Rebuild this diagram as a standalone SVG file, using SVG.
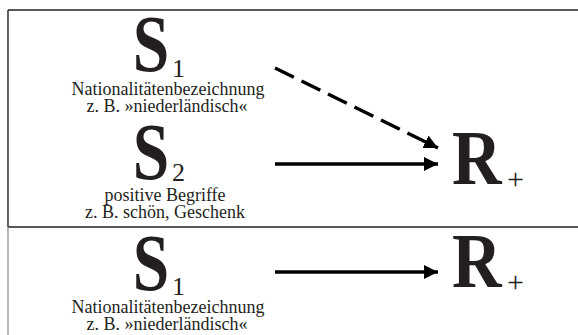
<svg xmlns="http://www.w3.org/2000/svg" width="578" height="335" viewBox="0 0 578 335">
<defs>
<style>
.big{font-family:"Liberation Serif","DejaVu Serif",serif;font-weight:bold;font-size:80px;fill:#231f20}
.sub{font-family:"Liberation Serif","DejaVu Serif",serif;font-size:26px;fill:#231f20}
.plus{font-family:"Liberation Serif","DejaVu Serif",serif;font-size:30px;fill:#231f20}
.lbl{font-family:"Liberation Serif","DejaVu Serif",serif;font-size:18px;fill:#231f20;text-anchor:middle}
.rule{stroke:#231f20;stroke-width:1.4;fill:none}
.arr{stroke:#000;stroke-width:3.5;fill:none;marker-end:url(#ah)}
</style>
<marker id="ah" markerUnits="userSpaceOnUse" markerWidth="14" markerHeight="14" viewBox="0 0 13 13" refX="13" refY="6.5" orient="auto">
<path d="M0,0 L13,6.5 L0,13 Z" fill="#000"/>
</marker>
</defs>
<rect width="578" height="335" fill="#fff"/>
<g id="frame">
<line class="rule" x1="8" y1="10" x2="578" y2="10"/>
<line class="rule" x1="8" y1="227" x2="578" y2="227"/>
<line class="rule" x1="8" y1="10" x2="8" y2="227"/>
<line x1="8" y1="227" x2="8" y2="335" stroke="#999" stroke-width="1.4"/>
</g>
<g id="s1-top">
<text class="big" transform="translate(151,71) scale(0.82,1)" text-anchor="middle">S</text>
<text class="sub" x="172" y="77">1</text>
<text class="lbl" x="168" y="95">Nationalitätenbezeichnung</text>
<text class="lbl" x="167" y="112">z. B. »niederländisch«</text>
</g>
<g id="s2">
<text class="big" transform="translate(151,179) scale(0.82,1)" text-anchor="middle">S</text>
<text class="sub" x="172" y="181">2</text>
<text class="lbl" x="165" y="201">positive Begriffe</text>
<text class="lbl" x="165" y="218">z. B. schön, Geschenk</text>
</g>
<g id="r-top">
<text class="big" transform="translate(452,184) scale(0.88,1)" style="font-size:78px">R</text>
<text class="plus" x="507" y="189">+</text>
</g>
<g id="s1-bottom">
<text class="big" transform="translate(151,290) scale(0.82,1)" text-anchor="middle">S</text>
<text class="sub" x="172" y="295">1</text>
<text class="lbl" x="168" y="313">Nationalitätenbezeichnung</text>
<text class="lbl" x="167" y="330">z. B. »niederländisch«</text>
</g>
<g id="r-bottom">
<text class="big" transform="translate(452,287) scale(0.88,1)" style="font-size:78px">R</text>
<text class="plus" x="507" y="292">+</text>
</g>
<g id="connectors">
<line class="arr" x1="275" y1="68" x2="438" y2="148" stroke-dasharray="21,8.5"/>
<line class="arr" x1="275" y1="164" x2="438" y2="164"/>
<line class="arr" x1="275" y1="272" x2="438" y2="272"/>
</g>
</svg>
